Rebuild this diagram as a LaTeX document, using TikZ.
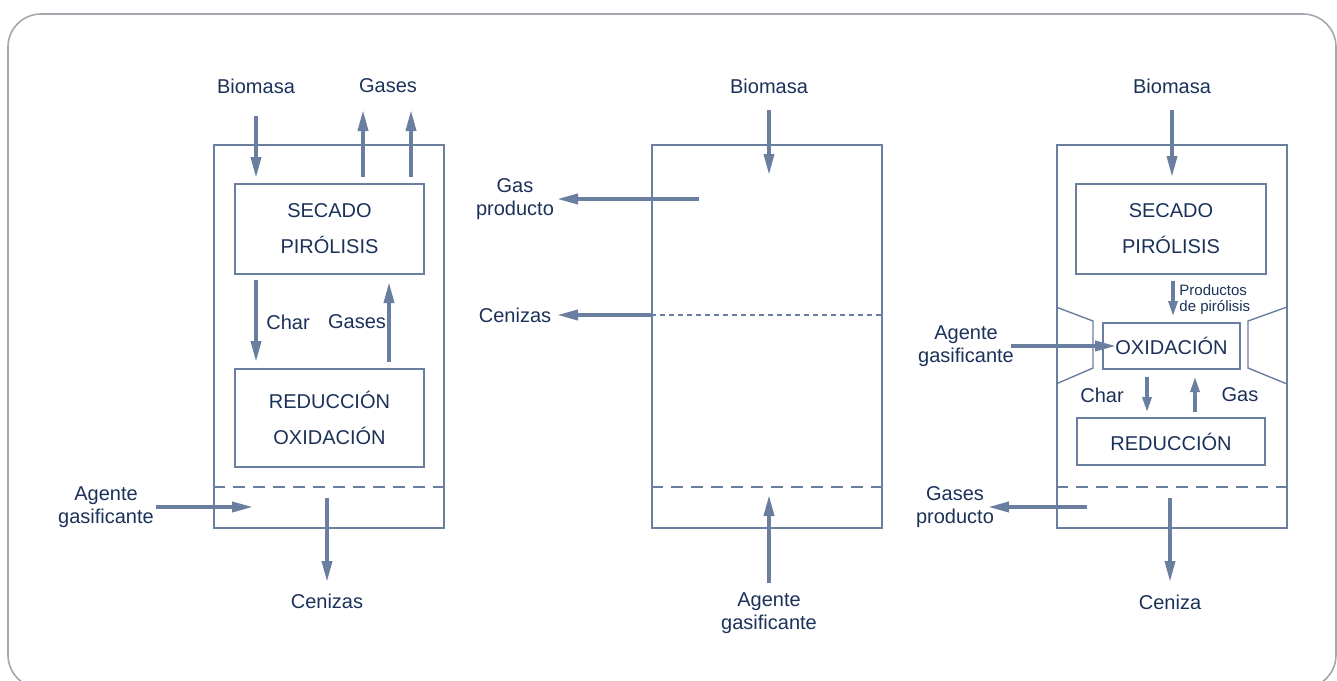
\documentclass[tikz,border=0pt]{standalone}
\usepackage{fontspec}
\setmainfont{Liberation Sans}
\usetikzlibrary{arrows.meta}
\definecolor{ln}{HTML}{6A7EA0}
\definecolor{tx}{HTML}{1B3159}
\definecolor{fr}{HTML}{A3A7AE}
\begin{document}
\begin{tikzpicture}[x=0.5pt,y=-0.5pt,
  reactor/.style={draw=ln, line width=1pt, minimum width=115pt, minimum height=191.5pt, inner sep=0pt},
  stagebox/.style={draw=ln, line width=1pt, inner sep=0pt, align=center, text=tx,
     font=\fontsize{10}{18}\selectfont},
  lbl/.style={text=tx, font=\fontsize{10}{11.5}\selectfont, align=center, inner sep=0pt},
  smalllbl/.style={text=tx, font=\fontsize{7.5}{8}\selectfont, align=left, inner sep=0pt},
  arr/.style={draw=ln, line width=1.8pt, -{Triangle[length=10.5pt,width=5pt]}},
  sarr/.style={draw=ln, line width=1.6pt, -{Triangle[length=7.5pt,width=4.5pt]}},
  grate/.style={draw=ln, line width=1pt, dash pattern=on 6pt off 4pt},
  fine/.style={draw=ln, line width=1pt, dash pattern=on 2.5pt off 2pt},
  throat/.style={draw=ln, line width=0.7pt}]
\useasboundingbox (0,0) rectangle (1337,680);
\draw[fr, line width=0.8pt, rounded corners=16.5pt] (8,14) rectangle (1336,688);

% ---------- left reactor ----------
\node[reactor] (L) at (329,336.5) {};
\node[stagebox, minimum width=94.5pt, minimum height=45pt] (Lsec) at (329.5,229) {SECADO\\PIRÓLISIS};
\node[stagebox, minimum width=94.5pt, minimum height=49pt] (Lred) at (329.5,418) {REDUCCIÓN\\OXIDACIÓN};
\draw[grate] (L.west |- 0,487) -- (L.east |- 0,487);

\node[lbl] (LtBio) at (256,86) {Biomasa};
\node[lbl] (LtGas) at (388,86) {Gases};
\node[lbl] (LtChar) at (288,322) {Char};
\node[lbl] (LtGas2) at (357,322) {Gases};
\node[lbl] (LtAg) at (106,507) {Agente\\gasificante};
\node[lbl] (LtCen) at (327,601) {Cenizas};

\coordinate (a1) at (256,116); \coordinate (a2) at (256,178);
\coordinate (b1) at (363,177); \coordinate (b2) at (363,110);
\coordinate (c1) at (411,177); \coordinate (c2) at (411,110);
\coordinate (d1) at (256,280); \coordinate (d2) at (256,362);
\coordinate (e1) at (389,362); \coordinate (e2) at (389,282);
\coordinate (f1) at (156,507); \coordinate (f2) at (253,507);
\coordinate (g1) at (327,498); \coordinate (g2) at (327,582);
\draw[arr] (a1) -- (a2);
\draw[arr] (b1) -- (b2);
\draw[arr] (c1) -- (c2);
\draw[arr] (d1) -- (d2);
\draw[arr] (e1) -- (e2);
\draw[arr] (f1) -- (f2);
\draw[arr] (g1) -- (g2);

% ---------- middle reactor ----------
\node[reactor] (M) at (767,336.5) {};
\draw[fine] (M.west |- 0,315) -- (M.east |- 0,315);
\draw[grate] (M.west |- 0,487) -- (M.east |- 0,487);

\node[lbl] (MtBio) at (769,86) {Biomasa};
\node[lbl] (MtGas) at (515,199) {Gas\\producto};
\node[lbl] (MtCen) at (515,315) {Cenizas};
\node[lbl] (MtAg) at (769,613) {Agente\\gasificante};

\coordinate (h1) at (769,110); \coordinate (h2) at (769,175);
\coordinate (i1) at (699,199); \coordinate (i2) at (557,199);
\coordinate (j1) at (652,315); \coordinate (j2) at (557,315);
\coordinate (k1) at (769,583); \coordinate (k2) at (769,495);
\draw[arr] (h1) -- (h2);
\draw[arr] (i1) -- (i2);
\draw[arr] (j1) -- (j2);
\draw[arr] (k1) -- (k2);

% ---------- right reactor ----------
\node[reactor] (R) at (1171.5,336.5) {};
\node[stagebox, minimum width=95pt, minimum height=45pt] (Rsec) at (1171,229) {SECADO\\PIRÓLISIS};
\node[stagebox, minimum width=68.5pt, minimum height=23pt] (Rox) at (1171.5,346) {OXIDACIÓN};
\node[stagebox, minimum width=94pt, minimum height=23.5pt] (Rred) at (1171,441.5) {REDUCCIÓN};
\draw[grate] (R.west |- 0,487) -- (R.east |- 0,487);
\draw[throat] (1056,307) -- (1093,321) -- (1093,368) -- (1056,384);
\draw[throat] (1287,307) -- (1248,321) -- (1248,368) -- (1287,384);

\node[lbl] (RtBio) at (1172,86) {Biomasa};
\node[smalllbl, anchor=west] (RtProd) at (1179,300) {Productos\\de pirólisis};
\node[lbl] (RtAg) at (966,346) {Agente\\gasificante};
\node[lbl] (RtChar) at (1102,395) {Char};
\node[lbl] (RtGas) at (1240,395) {Gas};
\node[lbl] (RtGp) at (955,507) {Gases\\producto};
\node[lbl] (RtCen) at (1170,602) {Ceniza};

\coordinate (m1) at (1172,110); \coordinate (m2) at (1172,177);
\coordinate (n1) at (1173,281); \coordinate (n2) at (1173,316);
\coordinate (o1) at (1011,346); \coordinate (o2) at (1116,346);
\coordinate (p1) at (1147,377); \coordinate (p2) at (1147,412);
\coordinate (q1) at (1195,412); \coordinate (q2) at (1195,377);
\coordinate (r1) at (1087,507); \coordinate (r2) at (988,507);
\coordinate (s1) at (1170,498); \coordinate (s2) at (1170,582);
\draw[arr] (m1) -- (m2);
\draw[sarr] (n1) -- (n2);
\draw[arr] (o1) -- (o2);
\draw[sarr] (p1) -- (p2);
\draw[sarr] (q1) -- (q2);
\draw[arr] (r1) -- (r2);
\draw[arr] (s1) -- (s2);
\end{tikzpicture}
\end{document}
